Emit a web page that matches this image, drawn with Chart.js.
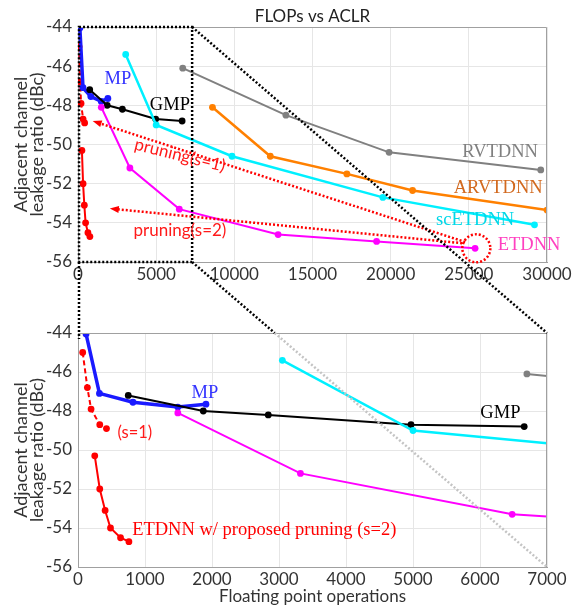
<!DOCTYPE html>
<html>
<head>
<meta charset="utf-8">
<script src="https://cdn.jsdelivr.net/npm/chart.js@4"></script>
<style>
  html, body { margin: 0; padding: 0; background: #fff; }
  #wrap { position: relative; width: 581px; height: 607px; }
  canvas { position: absolute; left: 0; }
</style>
</head>
<body>
<div id="wrap">
  <canvas id="topChart" width="581" height="300" style="top:0"></canvas>
  <canvas id="bottomChart" width="581" height="307" style="top:300px"></canvas>
  <canvas id="overlay" width="581" height="607" style="top:0;pointer-events:none"></canvas>
</div>
<script>
// FLOPs vs ACLR
const mpFlops = [120, 320, 820, 1490, 1910];
const mpAclr = [-44.05, -47.1, -47.55, -47.8, -47.65];
const gmpFlops = [750, 1870, 2840, 4970, 6660];
const gmpAclr = [-47.2, -48.0, -48.2, -48.7, -48.8];
const rvtdnnFlops = [6700, 13300, 19900, 29600];
const rvtdnnAclr = [-46.1, -48.5, -50.4, -51.3];
const arvtdnnFlops = [8600, 12300, 17200, 21400, 30000];
const arvtdnnAclr = [-48.1, -50.6, -51.5, -52.35, -53.35];
const scetdnnFlops = [3050, 5000, 9850, 19500, 29200];
const scetdnnAclr = [-45.4, -49.0, -50.6, -52.7, -54.1];
const etdnnFlops = [1490, 3320, 6480, 12800, 19100, 25400];
const etdnnAclr = [-48.1, -51.2, -53.3, -54.6, -54.95, -55.3];
const pruneS1Flops = [70, 140, 195, 325, 425];
const pruneS1Aclr = [-45.0, -46.8, -47.9, -48.7, -48.9];
const pruneS2Flops = [250, 325, 405, 485, 635, 760];
const pruneS2Aclr = [-50.3, -52.0, -53.1, -54.0, -54.5, -54.7];

const topXTicks = [0, 5000, 10000, 15000, 20000, 25000, 30000];
const bottomXTicks = [0, 1000, 2000, 3000, 4000, 5000, 6000, 7000];
const yTicks = [-56, -54, -52, -50, -48, -46, -44];
const zoomBox = { xMax: 7300, yMin: -56, yMax: -44 };

Chart.defaults.font.family = 'Lato';
Chart.defaults.color = '#333';

const pts = (xs, ys) => xs.map((x, i) => ({ x: x, y: ys[i] }));

const makeDatasets = () => [
  { data: pts(rvtdnnFlops, rvtdnnAclr), borderColor: '#808080', backgroundColor: '#808080', borderWidth: 2 },
  { data: pts(arvtdnnFlops, arvtdnnAclr), borderColor: '#ff8000', backgroundColor: '#ff8000', borderWidth: 2.5 },
  { data: pts(scetdnnFlops, scetdnnAclr), borderColor: '#00f0ff', backgroundColor: '#00f0ff', borderWidth: 2.5 },
  { data: pts(etdnnFlops, etdnnAclr), borderColor: '#ff00ff', backgroundColor: '#ff00ff', borderWidth: 2 },
  { data: pts(gmpFlops, gmpAclr), borderColor: '#000', backgroundColor: '#000', borderWidth: 2 },
  { data: pts(mpFlops, mpAclr), borderColor: '#1a1aff', backgroundColor: '#1a1aff', borderWidth: 3.5 },
  { data: pts(pruneS1Flops, pruneS1Aclr), borderColor: '#ff0000', backgroundColor: '#ff0000', borderWidth: 2, borderDash: [5, 3] },
  { data: pts(pruneS2Flops, pruneS2Aclr), borderColor: '#ff0000', backgroundColor: '#ff0000', borderWidth: 2 }
].map(d => Object.assign({ showLine: true, pointRadius: 3.4, pointBorderWidth: 0, tension: 0 }, d));

const axes = (xMax, xTicks, xTitle, xHeight) => ({
  x: {
    type: 'linear', min: 0, max: xMax,
    afterBuildTicks: s => { s.ticks = xTicks.map(v => ({ value: v })); },
    afterFit: s => { s.height = xHeight; },
    grid: { color: '#e6e6e6', drawTicks: false },
    border: { color: '#a0a0a0' },
    ticks: { padding: 2, font: { size: 17 }, color: '#333', callback: v => String(v) },
    title: xTitle ? { display: true, text: xTitle, font: { size: 17 }, color: '#333', padding: 0 } : { display: false }
  },
  y: {
    type: 'linear', min: -56, max: -44,
    afterBuildTicks: s => { s.ticks = yTicks.map(v => ({ value: v })); },
    afterFit: s => { s.width = 78; },
    grid: { color: '#e6e6e6', drawTicks: false },
    border: { color: '#a0a0a0' },
    ticks: { padding: 6, font: { size: 17 }, color: '#333', callback: v => String(v) },
    title: {
      display: true, text: ['Adjacent channel', 'leakage ratio (dBc)'],
      font: { size: 18, lineHeight: 0.85 }, color: '#333', padding: { top: 14 }
    }
  }
});

function drawLabel(ctx, chart, t) {
  const x = chart.scales.x.getPixelForValue(t.x);
  const y = chart.scales.y.getPixelForValue(t.y);
  ctx.save();
  ctx.translate(x, y);
  if (t.rot) ctx.rotate(t.rot * Math.PI / 180);
  ctx.font = t.font;
  ctx.fillStyle = t.color;
  ctx.textAlign = 'center';
  ctx.textBaseline = 'middle';
  ctx.fillText(t.text, 0, 0);
  ctx.restore();
}

function dotted(ctx, color, width) {
  ctx.strokeStyle = color;
  ctx.lineWidth = width;
  ctx.setLineDash([2, 2]);
}

function arrow(ctx, chart, from, to) {
  const sx = chart.scales.x, sy = chart.scales.y;
  const x0 = sx.getPixelForValue(from[0]), y0 = sy.getPixelForValue(from[1]);
  const x1 = sx.getPixelForValue(to[0]), y1 = sy.getPixelForValue(to[1]);
  const a = Math.atan2(y1 - y0, x1 - x0);
  ctx.save();
  dotted(ctx, '#ff0000', 2.5);
  ctx.beginPath();
  ctx.moveTo(x0, y0);
  ctx.lineTo(x1 - 6 * Math.cos(a), y1 - 6 * Math.sin(a));
  ctx.stroke();
  ctx.setLineDash([]);
  ctx.fillStyle = '#ff0000';
  ctx.beginPath();
  ctx.moveTo(x1, y1);
  ctx.lineTo(x1 - 9 * Math.cos(a) + 3.5 * Math.sin(a), y1 - 9 * Math.sin(a) - 3.5 * Math.cos(a));
  ctx.lineTo(x1 - 9 * Math.cos(a) - 3.5 * Math.sin(a), y1 - 9 * Math.sin(a) + 3.5 * Math.cos(a));
  ctx.closePath();
  ctx.fill();
  ctx.restore();
}

const serif = '18.5px "Liberation Serif", "DejaVu Serif", serif';
const sans = '17px Lato, sans-serif';

const topLabels = [
  { text: 'MP', x: 2550, y: -46.65, font: serif, color: '#3333ff' },
  { text: 'GMP', x: 5880, y: -47.98, font: serif, color: '#000' },
  { text: 'pruning(s=1)', x: 6520, y: -50.55, font: sans, color: '#ff1a1a', rot: 14 },
  { text: 'pruning(s=2)', x: 6520, y: -54.38, font: sans, color: '#ff1a1a' },
  { text: 'RVTDNN', x: 27000, y: -50.38, font: serif, color: '#808080' },
  { text: 'ARVTDNN', x: 26880, y: -52.22, font: serif, color: '#d2691e' },
  { text: 'scETDNN', x: 25400, y: -53.86, font: serif, color: '#00d8e8' },
  { text: 'ETDNN', x: 28850, y: -55.15, font: serif, color: '#ff40c0' }
];

const bottomLabels = [
  { text: 'MP', x: 1894, y: -47.06, font: serif, color: '#3333ff' },
  { text: 'GMP', x: 6304, y: -48.09, font: serif, color: '#000' },
  { text: '(s=1)', x: 848, y: -49.1, font: '16.5px Lato, sans-serif', color: '#ff1a1a' },
  { text: 'ETDNN w/ proposed pruning (s=2)', x: 2780, y: -54.09, font: serif, color: '#ff0000' }
];

function frame(ctx, area) {
  ctx.save();
  ctx.strokeStyle = '#a0a0a0';
  ctx.lineWidth = 1;
  ctx.beginPath();
  ctx.moveTo(area.left, area.top + 0.5);
  ctx.lineTo(area.right - 0.5, area.top + 0.5);
  ctx.lineTo(area.right - 0.5, area.bottom);
  ctx.stroke();
  ctx.restore();
}

const topNotes = {
  id: 'topNotes',
  afterDatasetsDraw(chart) {
    const ctx = chart.ctx, a = chart.chartArea, sx = chart.scales.x, sy = chart.scales.y;
    frame(ctx, a);
    // zoomed region
    ctx.save();
    dotted(ctx, '#000', 2.5);
    const rx = sx.getPixelForValue(zoomBox.xMax);
    const rt = sy.getPixelForValue(zoomBox.yMax), rb = sy.getPixelForValue(zoomBox.yMin);
    const rl = sx.getPixelForValue(0);
    ctx.strokeRect(rl + 1, rt, rx - rl - 1, rb - rt);
    ctx.restore();
    // pruning arrows and circle
    arrow(ctx, chart, [24770, -54.98], [940, -48.8]);
    arrow(ctx, chart, [24570, -55.04], [2035, -53.27]);
    ctx.save();
    dotted(ctx, '#ff0000', 2.5);
    ctx.beginPath();
    ctx.arc(sx.getPixelForValue(25480), sy.getPixelForValue(-55.3), 14, 0, Math.PI * 2);
    ctx.stroke();
    ctx.restore();
    topLabels.forEach(t => drawLabel(ctx, chart, t));
    // title
    ctx.save();
    ctx.font = '17px Lato, sans-serif';
    ctx.fillStyle = '#222';
    ctx.textAlign = 'center';
    ctx.textBaseline = 'middle';
    ctx.fillText('FLOPs vs ACLR', (a.left + a.right) / 2, a.top - 10);
    ctx.restore();
  }
};

const bottomNotes = {
  id: 'bottomNotes',
  afterDatasetsDraw(chart) {
    frame(chart.ctx, chart.chartArea);
    bottomLabels.forEach(t => drawLabel(chart.ctx, chart, t));
  }
};

const topChart = new Chart(document.getElementById('topChart'), {
  type: 'scatter',
  data: { datasets: makeDatasets() },
  options: {
    responsive: false, animation: false,
    layout: { padding: { top: 27, right: 34, bottom: 0, left: 0 } },
    plugins: { legend: { display: false }, tooltip: { enabled: false } },
    scales: axes(30000, topXTicks, null, 38)
  },
  plugins: [topNotes]
});

const bottomChart = new Chart(document.getElementById('bottomChart'), {
  type: 'scatter',
  data: { datasets: makeDatasets() },
  options: {
    responsive: false, animation: false,
    layout: { padding: { top: 33, right: 34, bottom: 0, left: 0 } },
    plugins: { legend: { display: false }, tooltip: { enabled: false } },
    scales: axes(7000, bottomXTicks, 'Floating point operations', 40)
  },
  plugins: [bottomNotes]
});

// lines linking the zoom box to the lower axes
const drawLinks = () => {
  const ctx = document.getElementById('overlay').getContext('2d');
  const off = 300;
  const tx = topChart.scales.x, ty = topChart.scales.y;
  const bx = bottomChart.scales.x, by = bottomChart.scales.y;
  const p1 = [tx.getPixelForValue(zoomBox.xMax), ty.getPixelForValue(zoomBox.yMax)];
  const p2 = [tx.getPixelForValue(zoomBox.xMax), ty.getPixelForValue(zoomBox.yMin)];
  const p3 = [tx.getPixelForValue(0), ty.getPixelForValue(zoomBox.yMin)];
  const q1 = [bx.getPixelForValue(7000), by.getPixelForValue(-44) + off];
  const q2 = [bx.getPixelForValue(7000), by.getPixelForValue(-56) + off];
  const q3 = [bx.getPixelForValue(0), by.getPixelForValue(-44) + off];
  const t = (q1[1] - p2[1]) / (q2[1] - p2[1]);
  const cut = [p2[0] + t * (q2[0] - p2[0]), q1[1]];
  ctx.save();
  dotted(ctx, '#000', 2.5);
  ctx.beginPath();
  ctx.moveTo(p1[0], p1[1]); ctx.lineTo(q1[0], q1[1]);
  ctx.moveTo(p2[0], p2[1]); ctx.lineTo(cut[0], cut[1]);
  ctx.moveTo(p3[0] + 1, p3[1]); ctx.lineTo(q3[0] + 1, q3[1] + 6);
  ctx.stroke();
  dotted(ctx, '#c4c4c4', 2.5);
  ctx.beginPath();
  ctx.moveTo(cut[0], cut[1]); ctx.lineTo(q2[0], q2[1]);
  ctx.stroke();
  ctx.restore();
};
drawLinks();
</script>
</body>
</html>
